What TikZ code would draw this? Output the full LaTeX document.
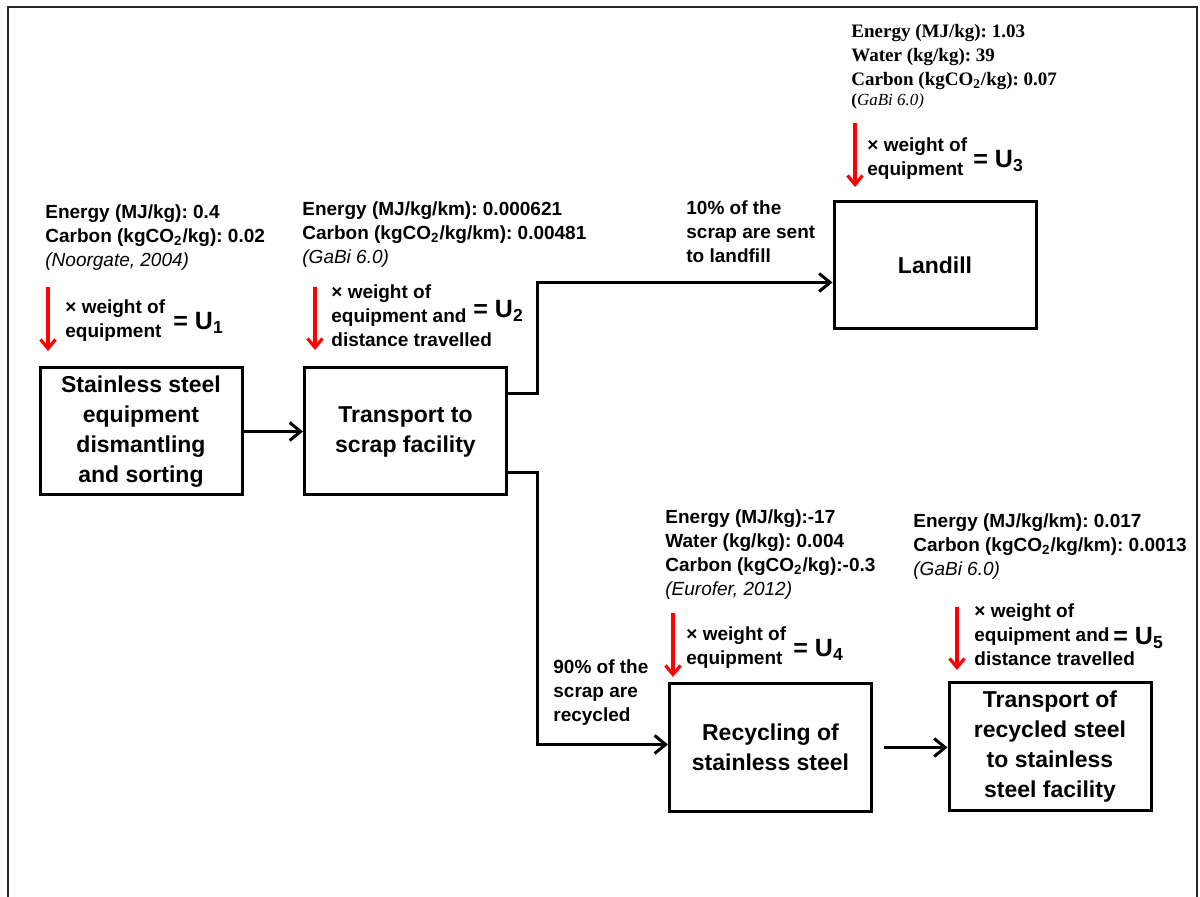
\documentclass[tikz,border=0pt]{standalone}
\usepackage{fontspec}
\setmainfont{Liberation Sans}
\newfontfamily\timesfont{Liberation Serif}
\usetikzlibrary{arrows.meta,positioning}
\frenchspacing

\begin{document}
\begin{tikzpicture}[
  x=0.5pt, y=-0.5pt,
  stage/.style={
    draw=black,
    line width=1.5pt,
    align=center,
    minimum width=101pt,
    minimum height=63.5pt,
    inner sep=2pt,
    font=\fontsize{11.5}{15}\selectfont\bfseries
  },
  info/.style={align=left, inner sep=0pt, anchor=north west, font=\fontsize{9.5}{12}\selectfont\bfseries},
  factor/.style={align=left, inner sep=0pt, anchor=west, font=\fontsize{9.5}{12}\selectfont\bfseries},
  result/.style={inner sep=0pt, anchor=base west, font=\fontsize{12.5}{15}\selectfont\bfseries},
  note/.style={info},
  flow/.style={-{Straight Barb[length=5.5pt,width=9pt]}, line width=1.5pt, draw=black},
  load/.style={-{Straight Barb[length=4.5pt,width=7.5pt]}, line width=1.6pt, draw=red}
]
\useasboundingbox (0,0) rectangle (1200,897);

% Frame, open at the bottom.
\draw[line width=1pt, draw=black!85] (8,897) -- (8,7) -- (1197,7) -- (1197,897);

% Process stages.
\node[stage] (dismantle) at (141,431.5)   {Stainless steel\\equipment\\dismantling\\and sorting};
\node[stage] (transport) at (405.5,431.5) {Transport to\\scrap facility};
\node[stage] (landfill)  at (935,265.5)   {Landill};
\node[stage] (recycle)   at (770.5,747.5) {Recycling of\\stainless steel};
\node[stage] (transfer)  at (1050,746.5)  {Transport of\\recycled steel\\to stainless\\steel facility};

% Impact data above each stage.
\node[info] (data1) at (45,204) {Energy (MJ/kg): 0.4\\Carbon (kgCO\textsubscript{2}/kg): 0.02\\\textit{\mdseries (Noorgate, 2004)}};
\node[info] (data2) at (302,201) {Energy (MJ/kg/km): 0.000621\\Carbon (kgCO\textsubscript{2}/kg/km): 0.00481\\\textit{\mdseries (GaBi 6.0)}};
\node[info, font=\fontsize{9.5}{12}\selectfont\timesfont\bfseries] (data3) at (851,24)
  {Energy (MJ/kg): 1.03\\Water (kg/kg): 39\\Carbon (kgCO\textsubscript{2}/kg): 0.07\\[-2pt]{\fontsize{8.5}{10}\selectfont(\textit{\mdseries GaBi 6.0)}}};
\node[info] (data4) at (665,509) {Energy (MJ/kg):-17\\Water (kg/kg): 0.004\\Carbon (kgCO\textsubscript{2}/kg):-0.3\\\textit{\mdseries (Eurofer, 2012)}};
\node[info] (data5) at (913,513) {Energy (MJ/kg/km): 0.017\\Carbon (kgCO\textsubscript{2}/kg/km): 0.0013\\\textit{\mdseries (GaBi 6.0)}};

% Multipliers.
\node[factor] (mult1) at (65,320.5)  {× weight of\\equipment};
\node[factor] (mult2) at (331,316)   {× weight of\\equipment and\\distance travelled};
\node[factor] (mult3) at (867,158.5) {× weight of\\equipment};
\node[factor] (mult4) at (686,648)   {× weight of\\equipment};
\node[factor] (mult5) at (974,634.5) {× weight of\\equipment and\\distance travelled};

\node[result] (u1) at (173,330)  {= U\textsubscript{1}};
\node[result] (u2) at (473,318)  {= U\textsubscript{2}};
\node[result] (u3) at (973,168)  {= U\textsubscript{3}};
\node[result] (u4) at (793,657)  {= U\textsubscript{4}};
\node[result] (u5) at (1113,645) {= U\textsubscript{5}};

% Red arrows.
\coordinate (in1) at (48,287);   \coordinate (out1) at (48,351);
\coordinate (in2) at (315,287);  \coordinate (out2) at (315,350);
\coordinate (in3) at (855,123);  \coordinate (out3) at (855,187);
\coordinate (in4) at (673,613);  \coordinate (out4) at (673,677);
\coordinate (in5) at (957,607);  \coordinate (out5) at (957,670);
\foreach \i in {1,...,5}
  \draw[load] (in\i) -- (out\i);

% Split labels.
\node[note] (share1) at (686,200) {10\% of the\\scrap are sent\\to landfill};
\node[note] (share2) at (553,659) {90\% of the\\scrap are\\recycled};

% Connectors.
\draw[flow] (dismantle.east) -- (transport.west);
\draw[flow] ([yshift=19pt]transport.east) -- ++(29,0) |- ([yshift=-8.5pt]landfill.west);
\draw[flow] ([yshift=-20.5pt]transport.east) -- ++(29,0) |- ([yshift=1.5pt]recycle.west);
\draw[flow] ([xshift=5.5pt]recycle.east) -- (recycle.east -| transfer.west);

\end{tikzpicture}
\end{document}
